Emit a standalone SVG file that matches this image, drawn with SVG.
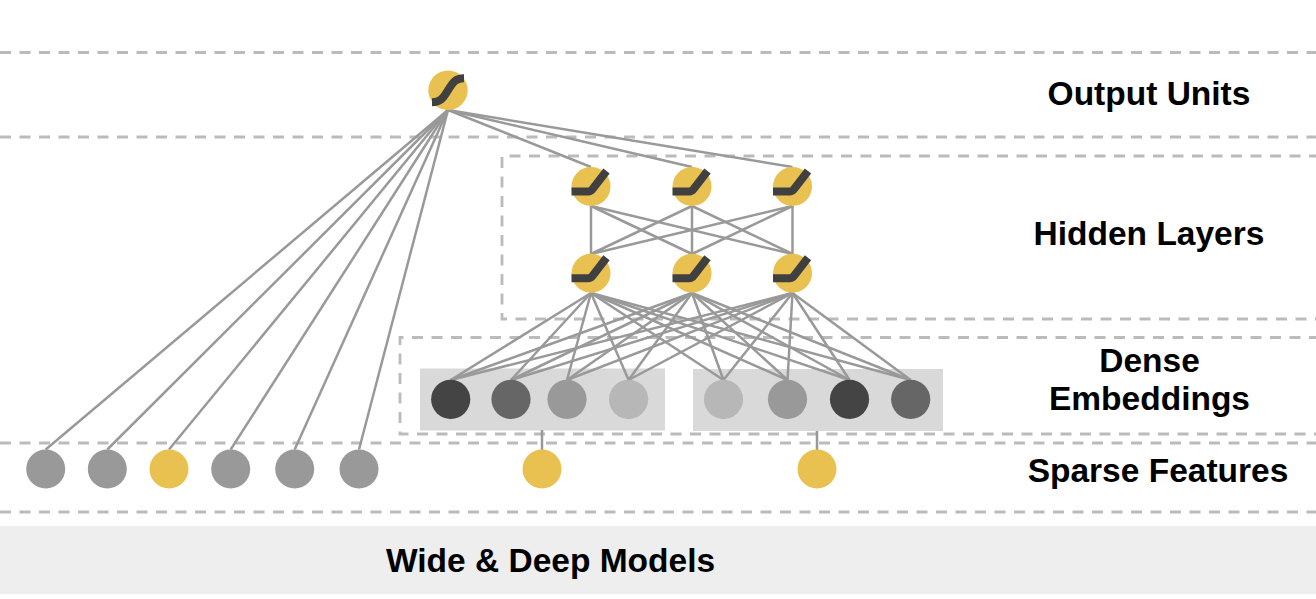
<svg xmlns="http://www.w3.org/2000/svg" xmlns:xlink="http://www.w3.org/1999/xlink" width="1316" height="599" viewBox="0 0 1316 599">
<style>
.dash{fill:none;stroke:#bbbbbb;stroke-width:2.8;stroke-dasharray:11 8.5}
.edge{stroke:#999999;stroke-width:2.5;fill:none}
.yel{fill:#e8c150}
.sym{fill:none;stroke:#404040;stroke-width:8}
.lbl{font-family:"Liberation Sans",Arial,sans-serif;font-weight:bold;font-size:33.5px;fill:#000;text-anchor:middle}
</style>
<defs>
<g id="relu">
<circle r="19.5" class="yel"/>
<path class="sym" d="M -19.5 5 H -3 Q 0 5 2 2 L 15.5 -15.5" stroke-linejoin="round"/>
</g>
<g id="sigm">
<circle r="19.7" class="yel"/>
<path class="sym" d="M -16 12 C -6 12 -4 6 0 0 C 4 -6 6 -12 16 -12"/>
</g>
</defs>
<rect width="1316" height="599" fill="#fff"/>
<g id="bands">
<line class="dash" x1="0" y1="52.5" x2="1316" y2="52.5"/>
<line class="dash" x1="0" y1="137" x2="1316" y2="137"/>
<path class="dash" d="M 1320 156 H 502 V 319 H 1320"/>
<path class="dash" d="M 1320 337.5 H 400 V 434 H 1320"/>
<line class="dash" x1="0" y1="443" x2="1316" y2="443"/>
<line class="dash" x1="0" y1="512" x2="1316" y2="512"/>
<rect x="0" y="526" width="1316" height="68" fill="#eeeeee"/>
</g>
<g id="embedding-boxes">
<rect x="420" y="368.5" width="245" height="62" fill="#d9d9d9"/>
<rect x="693" y="369" width="250" height="62" fill="#d9d9d9"/>
</g>
<g id="connectors" class="edge">
<line x1="448" y1="110" x2="45.7" y2="449.5"/>
<line x1="448" y1="110" x2="107.3" y2="449.5"/>
<line x1="448" y1="110" x2="169" y2="449.5"/>
<line x1="448" y1="110" x2="230.7" y2="449.5"/>
<line x1="448" y1="110" x2="294.7" y2="449.5"/>
<line x1="448" y1="110" x2="359" y2="449.5"/>
<line x1="448" y1="110" x2="591" y2="167"/>
<line x1="448" y1="110" x2="692" y2="167"/>
<line x1="448" y1="110" x2="792.5" y2="167"/>
<line x1="591" y1="206" x2="591" y2="254"/>
<line x1="591" y1="206" x2="692" y2="254"/>
<line x1="591" y1="206" x2="792.5" y2="254"/>
<line x1="692" y1="206" x2="591" y2="254"/>
<line x1="692" y1="206" x2="692" y2="254"/>
<line x1="692" y1="206" x2="792.5" y2="254"/>
<line x1="792.5" y1="206" x2="591" y2="254"/>
<line x1="792.5" y1="206" x2="692" y2="254"/>
<line x1="792.5" y1="206" x2="792.5" y2="254"/>
<g>
<line x1="591" y1="293" x2="450.7" y2="380"/>
<line x1="591" y1="293" x2="511" y2="380"/>
<line x1="591" y1="293" x2="567" y2="380"/>
<line x1="591" y1="293" x2="628.6" y2="380"/>
<line x1="591" y1="293" x2="723.5" y2="380"/>
<line x1="591" y1="293" x2="787.5" y2="380"/>
<line x1="591" y1="293" x2="849.5" y2="380"/>
<line x1="591" y1="293" x2="910.7" y2="380"/>
</g>
<g>
<line x1="692" y1="293" x2="450.7" y2="380"/>
<line x1="692" y1="293" x2="511" y2="380"/>
<line x1="692" y1="293" x2="567" y2="380"/>
<line x1="692" y1="293" x2="628.6" y2="380"/>
<line x1="692" y1="293" x2="723.5" y2="380"/>
<line x1="692" y1="293" x2="787.5" y2="380"/>
<line x1="692" y1="293" x2="849.5" y2="380"/>
<line x1="692" y1="293" x2="910.7" y2="380"/>
</g>
<g>
<line x1="792.5" y1="293" x2="450.7" y2="380"/>
<line x1="792.5" y1="293" x2="511" y2="380"/>
<line x1="792.5" y1="293" x2="567" y2="380"/>
<line x1="792.5" y1="293" x2="628.6" y2="380"/>
<line x1="792.5" y1="293" x2="723.5" y2="380"/>
<line x1="792.5" y1="293" x2="787.5" y2="380"/>
<line x1="792.5" y1="293" x2="849.5" y2="380"/>
<line x1="792.5" y1="293" x2="910.7" y2="380"/>
</g>
<line x1="542" y1="430" x2="542" y2="450"/>
<line x1="817" y1="431" x2="817" y2="450"/>
</g>
<g id="output"><use xlink:href="#sigm" x="448" y="90.3"/></g>
<g id="hidden-top-1"><use xlink:href="#relu" x="591" y="186.5"/></g>
<g id="hidden-top-2"><use xlink:href="#relu" x="692" y="186.5"/></g>
<g id="hidden-top-3"><use xlink:href="#relu" x="792.5" y="186.5"/></g>
<g id="hidden-bot-1"><use xlink:href="#relu" x="591" y="273.3"/></g>
<g id="hidden-bot-2"><use xlink:href="#relu" x="692" y="273.3"/></g>
<g id="hidden-bot-3"><use xlink:href="#relu" x="792.5" y="273.3"/></g>
<g id="emb-1"><circle cx="450.7" cy="399.3" r="19.6" fill="#444444"/></g>
<g id="emb-2"><circle cx="511" cy="399.3" r="19.6" fill="#666666"/></g>
<g id="emb-3"><circle cx="567" cy="399.3" r="19.6" fill="#999999"/></g>
<g id="emb-4"><circle cx="628.6" cy="399.3" r="19.6" fill="#b7b7b7"/></g>
<g id="emb-5"><circle cx="723.5" cy="399.3" r="19.6" fill="#b7b7b7"/></g>
<g id="emb-6"><circle cx="787.5" cy="399.3" r="19.6" fill="#999999"/></g>
<g id="emb-7"><circle cx="849.5" cy="399.3" r="19.6" fill="#444444"/></g>
<g id="emb-8"><circle cx="910.7" cy="399.3" r="19.6" fill="#666666"/></g>
<g id="wide-1"><circle cx="45.7" cy="469" r="19.5" fill="#999999"/></g>
<g id="wide-2"><circle cx="107.3" cy="469" r="19.5" fill="#999999"/></g>
<g id="wide-3"><circle cx="169" cy="469" r="19.5" class="yel"/></g>
<g id="wide-4"><circle cx="230.7" cy="469" r="19.5" fill="#999999"/></g>
<g id="wide-5"><circle cx="294.7" cy="469" r="19.5" fill="#999999"/></g>
<g id="wide-6"><circle cx="359" cy="469" r="19.5" fill="#999999"/></g>
<g id="sparse-1"><circle cx="542" cy="469" r="19.5" class="yel"/></g>
<g id="sparse-2"><circle cx="817" cy="469" r="19.5" class="yel"/></g>
<g id="labels">
<text class="lbl" x="1149" y="105">Output Units</text>
<text class="lbl" x="1149" y="245">Hidden Layers</text>
<text class="lbl" x="1149.5" y="372">Dense</text>
<text class="lbl" x="1149.5" y="410">Embeddings</text>
<text class="lbl" x="1158" y="482">Sparse Features</text>
<text class="lbl" x="550.5" y="572">Wide &amp; Deep Models</text>
</g>
</svg>
